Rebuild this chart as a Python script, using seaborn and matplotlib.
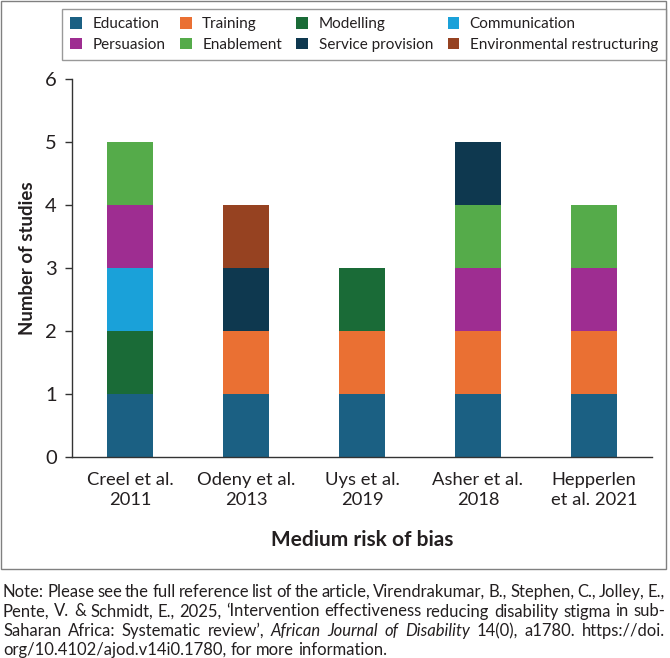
import numpy as np
import pandas as pd
import matplotlib
matplotlib.use("Agg")
import matplotlib.pyplot as plt
import seaborn as sns
from matplotlib.patches import Patch, Rectangle

# data (studies per intervention type)
studies = ["Creel et al.\n2011", "Odeny et al.\n2013", "Uys et al.\n2019",
           "Asher et al.\n2018", "Hepperlen\net al. 2021"]
education = [1, 1, 1, 1, 1]
training = [0, 1, 1, 1, 1]
modelling = [1, 0, 1, 0, 0]
communication = [1, 0, 0, 0, 0]
persuasion = [1, 0, 0, 1, 1]
enablement = [1, 0, 0, 1, 1]
service_provision = [0, 1, 0, 1, 0]
environmental_restructuring = [0, 1, 0, 0, 0]

types = ["Education", "Training", "Modelling", "Communication",
         "Persuasion", "Enablement", "Service provision", "Environmental restructuring"]
colors = ["#1b6083", "#ea7033", "#1a6b37", "#1aa1d9",
          "#9e2d91", "#55ab4a", "#0e384f", "#964221"]

df = pd.DataFrame({"study": studies,
                   "Education": education, "Training": training,
                   "Modelling": modelling, "Communication": communication,
                   "Persuasion": persuasion, "Enablement": enablement,
                   "Service provision": service_provision,
                   "Environmental restructuring": environmental_restructuring})
cum = df[types].cumsum(axis=1)

sns.set_style("white")
plt.rcParams["font.family"] = ["Lato", "DejaVu Sans"]
txt = "#231f20"

W, H = 670, 658
fig = plt.figure(figsize=(W / 100, H / 100), dpi=100)
ax = fig.add_axes([72 / W, 1 - 457 / H, 580 / W, 378 / H])

# stacked bars: draw cumulative totals from the top layer down
for t, c in zip(types[::-1], colors[::-1]):
    sns.barplot(x=df["study"], y=cum[t], order=studies, color=c, width=0.4,
                saturation=1, errorbar=None, linewidth=0, ax=ax)

ax.set_xlim(-0.5, 4.5)
ax.set_ylim(0, 6)
ax.set_yticks(range(7))
ax.set_xticks(np.arange(-0.5, 5, 1), minor=True)
for s in ["top", "right"]:
    ax.spines[s].set_visible(False)
for s in ["left", "bottom"]:
    ax.spines[s].set_color("#333333")
    ax.spines[s].set_linewidth(1)
ax.tick_params(axis="x", which="major", length=0, pad=11, labelsize=13.2, labelcolor=txt)
ax.tick_params(axis="x", which="minor", length=7.5, width=1, color="#333333", direction="out")
ax.tick_params(axis="y", length=5, width=1, color="#333333", pad=6, labelsize=14.5, labelcolor=txt, left=True)
for lab in ax.get_xticklabels():
    lab.set_linespacing(1.3)

ax.set_xlabel("Medium risk of bias", fontsize=15, fontweight="bold", color=txt)
ax.set_ylabel("Number of studies", fontsize=13.4, fontweight="bold", color=txt)
ax.xaxis.set_label_coords(0.5, (457 - 540) / 378)
ax.xaxis.label.set_va("center")
ax.yaxis.set_label_coords((28 - 72) / 580, (457 - 258) / 378)
ax.yaxis.label.set_va("center")

# legend: two rows of four, filled row by row
order = [0, 4, 1, 5, 2, 6, 3, 7]
handles = [Patch(facecolor=colors[i], edgecolor="none", label=types[i]) for i in order]
leg = fig.legend(handles=handles, ncol=4, loc="upper left",
                 bbox_to_anchor=(62 / W, 1 - 9 / H), borderaxespad=0,
                 frameon=True, fancybox=False, fontsize=11,
                 handlelength=0.75, handleheight=0.75, handletextpad=0.7,
                 columnspacing=0.95, labelspacing=0.42, borderpad=0.55)
leg.get_frame().set_edgecolor("#808080")
leg.get_frame().set_linewidth(1)
for t in leg.get_texts():
    t.set_color(txt)

# outer frame round the chart
fig.patches.append(Rectangle((0.5 / W, 1 - 569 / H), 665 / W, 568 / H,
                             transform=fig.transFigure, fill=False,
                             edgecolor="#808080", linewidth=1))

# note, justified like the source
fig.canvas.draw()
renderer = fig.canvas.get_renderer()
fs = 12.0


def words_of(s, italic=False):
    return [(w, italic) for w in s.split()]


lines = [
    words_of("Note: Please see the full reference list of the article, Virendrakumar, B., Stephen, C., Jolley, E.,"),
    words_of("Pente, V. & Schmidt, E., 2025, \u2018Intervention effectiveness reducing disability stigma in sub-"),
    words_of("Saharan Africa: Systematic review\u2019,") + words_of("African Journal of Disability", True)
    + words_of("14(0), a1780. https://doi."),
    words_of("org/10.4102/ajod.v14i0.1780, for more information."),
]
ys = [592, 611.5, 631, 650]
x0, x1 = 3, 665
for k, (line, y) in enumerate(zip(lines, ys)):
    widths = []
    for w, it in line:
        t = fig.text(0, 0, w, fontsize=fs, style="italic" if it else "normal")
        widths.append(t.get_window_extent(renderer).width)
        t.remove()
    if k < len(lines) - 1:
        gap = (x1 - x0 - sum(widths)) / (len(line) - 1)
    else:
        sp = fig.text(0, 0, "a a", fontsize=fs)
        a = fig.text(0, 0, "aa", fontsize=fs)
        gap = sp.get_window_extent(renderer).width - a.get_window_extent(renderer).width
        sp.remove(); a.remove()
    x = x0
    for (w, it), wd in zip(line, widths):
        fig.text(x / W, 1 - y / H, w, fontsize=fs, color=txt, va="center",
                 style="italic" if it else "normal")
        x += wd + gap

fig.savefig("out.png", dpi=100)
